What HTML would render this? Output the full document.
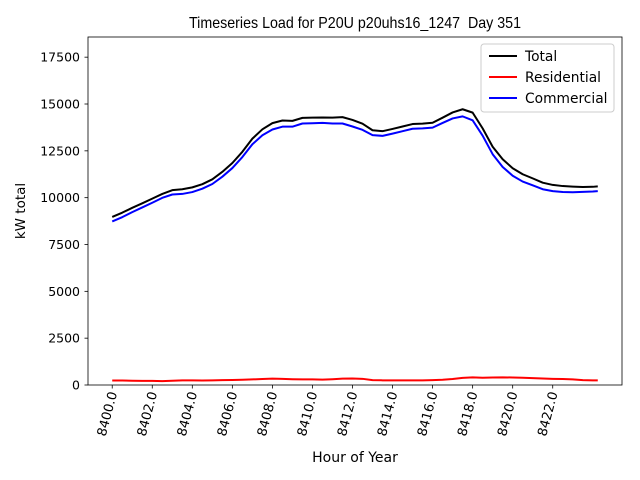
<!DOCTYPE html>
<html><head><meta charset="utf-8"><style>
body{margin:0;background:#fff}
svg{display:block;font-family:"DejaVu Sans","Liberation Sans",sans-serif}
</style></head><body>
<svg id="chart" width="640" height="480" xmlns="http://www.w3.org/2000/svg">
<rect width="640" height="480" fill="#fff"/>
<text x="355" y="28" font-size="16" text-anchor="middle" textLength="332" lengthAdjust="spacingAndGlyphs" xml:space="preserve" style="font-family:'Liberation Sans',sans-serif">Timeseries Load for P20U p20uhs16_1247  Day 351</text>
<g id="plot"></g>
<text x="355" y="462" font-size="14" text-anchor="middle">Hour of Year</text>
<text transform="translate(25,211) rotate(-90)" font-size="13.5" text-anchor="middle">kW total</text>
</svg>
<script>
const hours = [8400,8400.5,8401,8401.5,8402,8402.5,8403,8403.5,8404,8404.5,8405,8405.5,8406,8406.5,8407,8407.5,8408,8408.5,8409,8409.5,8410,8410.5,8411,8411.5,8412,8412.5,8413,8413.5,8414,8414.5,8415,8415.5,8416,8416.5,8417,8417.5,8418,8418.5,8419,8419.5,8420,8420.5,8421,8421.5,8422,8422.5,8423,8423.5,8424,8424.25];
const totalLoad = [8970,9200,9460,9700,9950,10200,10400,10450,10550,10720,10980,11380,11850,12450,13150,13650,13980,14120,14100,14260,14270,14280,14270,14300,14150,13950,13600,13550,13670,13800,13930,13950,14000,14270,14550,14720,14540,13700,12720,12050,11570,11250,11030,10800,10680,10620,10590,10570,10580,10600];
const residential = [240,240,230,220,220,210,230,250,250,240,250,260,270,280,300,320,340,330,310,300,300,290,310,340,350,330,260,250,250,250,250,250,260,280,320,380,410,390,400,410,400,390,370,350,330,320,300,260,250,250];
const commercial = [8730,8960,9230,9480,9730,9990,10170,10200,10300,10480,10730,11120,11580,12170,12850,13330,13640,13790,13790,13960,13970,13990,13960,13960,13800,13620,13340,13300,13420,13550,13680,13700,13740,13990,14230,14340,14130,13310,12320,11640,11170,10860,10660,10450,10350,10300,10290,10310,10330,10350];
const yTicks = [0,2500,5000,7500,10000,12500,15000,17500];
const xTicks = [8400,8402,8404,8406,8408,8410,8412,8414,8416,8418,8420,8422];

const L=88,R=622,T=37,B=385;
const xMin=8398.79,xMax=8425.46,yMin=0,yMax=18577;
const xs=v=>L+(v-xMin)/(xMax-xMin)*(R-L);
const ys=v=>B-(v-yMin)/(yMax-yMin)*(B-T);
const NS='http://www.w3.org/2000/svg';
const g=document.getElementById('plot');
function mk(tag,attrs,parent){const e=document.createElementNS(NS,tag);for(const k in attrs)e.setAttribute(k,attrs[k]);(parent||g).appendChild(e);return e;}

yTicks.forEach(t=>{
  const y=ys(t);
  const ln=mk('line',{x1:L-3.5,x2:L,y1:y,y2:y,stroke:'#000','stroke-width':0.8});
  
  
  const tx=mk('text',{x:L-8,y:y+4.5,'font-size':12.5,'text-anchor':'end'});
  tx.textContent=t;
  
  
});
xTicks.forEach(t=>{
  const x=xs(t);
  const ln=mk('line',{x1:x,x2:x,y1:B,y2:B+3.5,stroke:'#000','stroke-width':0.8});
  
  
  const tx=mk('text',{transform:`translate(${x+5},${B+8}) rotate(-75)`,'font-size':13,'text-anchor':'end'});
  tx.textContent=t.toFixed(1);
  
  
});

function series(vals,color,name){
  const d=vals.map((v,i)=>(i?'L':'M')+xs(hours[i]).toFixed(2)+','+ys(v).toFixed(2)).join('');
  const p=mk('path',{d:d,fill:'none',stroke:color,'stroke-width':2,'stroke-linejoin':'round'});
  
  
}
series(totalLoad,'#000','total-line');
series(residential,'#ff0000','residential-line');
series(commercial,'#0000ff','commercial-line');

const frame=mk('rect',{x:L,y:T,width:R-L,height:B-T,fill:'none',stroke:'#000','stroke-width':0.8});



const lg=mk('g',{});


mk('rect',{x:481,y:44,width:133,height:68,rx:3,fill:'#fff','fill-opacity':0.8,stroke:'#ccc','stroke-width':1},lg);
[['Total','#000'],['Residential','#ff0000'],['Commercial','#0000ff']].forEach((e,i)=>{
  const y=56+i*21;
  const ln=mk('line',{x1:489,x2:517,y1:y,y2:y,stroke:e[1],'stroke-width':2},lg);
  
  
  const tx=mk('text',{x:525,y:y+5,'font-size':13.8},lg);
  tx.textContent=e[0];
  
  
});
</script>
</body></html>
